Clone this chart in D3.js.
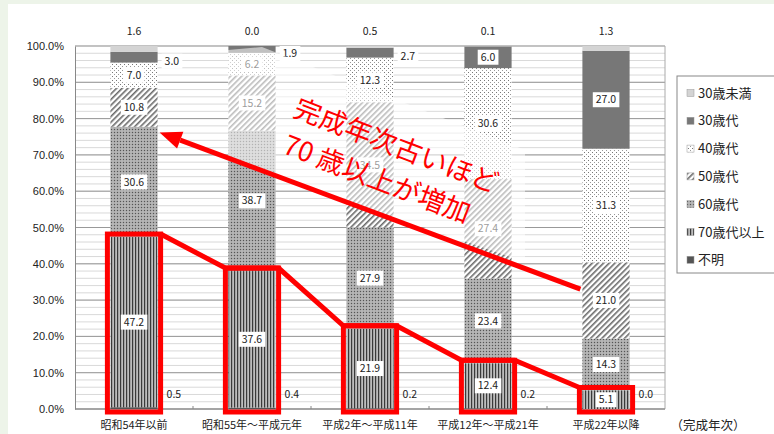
<!DOCTYPE html>
<html>
<head>
<meta charset="utf-8">
<script src="https://cdn.jsdelivr.net/npm/d3@7"></script>
<style>
  body { margin: 0; background: #edf4e9; }
  svg { display: block; font-family: "Noto Sans CJK JP", "Noto Sans", sans-serif; }
  .tick text { font-size: 11px; fill: #222; }
  .lbl { font-size: 10.5px; fill: #222; }
  .cat { font-size: 11px; fill: #222; }
  .unit { font-size: 12.5px; fill: #222; }
  .leg { font-size: 13px; fill: #222; }
  .note { font-size: 27px; fill: #f00; }
</style>
</head>
<body>
<div id="main"></div>
<script>
// categories (完成年次)
var categories = ["昭和54年以前", "昭和55年～平成元年", "平成2年～平成11年", "平成12年～平成21年", "平成22年以降"];
// stack order, bottom -> top
var ageGroups = ["不明", "70歳代以上", "60歳代", "50歳代", "40歳代", "30歳代", "30歳未満"];
// legend order, top -> bottom
var legendOrder = ["30歳未満", "30歳代", "40歳代", "50歳代", "60歳代", "70歳代以上", "不明"];

// series values (%)
var under30   = [1.6, 0.0, 0.5, 0.1, 1.3];
var age30s    = [3.0, 1.9, 2.7, 6.0, 27.0];
var age40s    = [7.0, 6.2, 12.3, 30.6, 31.3];
var age50s    = [10.8, 15.2, 34.5, 27.4, 21.0];
var age60s    = [30.6, 38.7, 27.9, 23.4, 14.3];
var age70plus = [47.2, 37.6, 21.9, 12.4, 5.1];
var unknown   = [0.5, 0.4, 0.2, 0.2, 0.0];

var yTicks = [0, 0.1, 0.2, 0.3, 0.4, 0.5, 0.6, 0.7, 0.8, 0.9, 1.0];

var ctx = {
    w: 774,
    h: 434,
    left: 75, right: 665, top: 46, bottom: 409
};

var seriesByGroup = {
    "不明": unknown, "70歳代以上": age70plus, "60歳代": age60s, "50歳代": age50s,
    "40歳代": age40s, "30歳代": age30s, "30歳未満": under30
};

var fills = {
    "30歳未満": "#d4d4d4",
    "30歳代": "#777",
    "40歳代": "url(#p40)",
    "50歳代": "url(#p50)",
    "60歳代": "url(#p60)",
    "70歳代以上": "url(#p70)",
    "不明": "#555"
};

var svg = d3.select("#main").append("svg")
    .attr("width", ctx.w).attr("height", ctx.h);

// patterns
var defs = svg.append("defs");
var p70 = defs.append("pattern").attr("id", "p70").attr("patternUnits", "userSpaceOnUse")
    .attr("width", 3).attr("height", 3);
p70.append("rect").attr("width", 3).attr("height", 3).attr("fill", "#bdbdbd");
p70.append("rect").attr("width", 1.2).attr("height", 3).attr("fill", "#3a3a3a");

var p60 = defs.append("pattern").attr("id", "p60").attr("patternUnits", "userSpaceOnUse")
    .attr("width", 3).attr("height", 3);
p60.append("rect").attr("width", 3).attr("height", 3).attr("fill", "#a9a9a9");
p60.append("rect").attr("width", 1).attr("height", 1).attr("fill", "#555");
p60.append("rect").attr("x", 1.5).attr("y", 1.5).attr("width", 1).attr("height", 1).attr("fill", "#d8d8d8");

var p50 = defs.append("pattern").attr("id", "p50").attr("patternUnits", "userSpaceOnUse")
    .attr("width", 4).attr("height", 4).attr("patternTransform", "rotate(45)");
p50.append("rect").attr("width", 4).attr("height", 4).attr("fill", "#fff");
p50.append("rect").attr("width", 1.6).attr("height", 4).attr("fill", "#6a6a6a");

var p40 = defs.append("pattern").attr("id", "p40").attr("patternUnits", "userSpaceOnUse")
    .attr("width", 4).attr("height", 4);
p40.append("rect").attr("width", 4).attr("height", 4).attr("fill", "#fff");
p40.append("rect").attr("width", 1).attr("height", 1).attr("fill", "#777");
p40.append("rect").attr("x", 2).attr("y", 2).attr("width", 1).attr("height", 1).attr("fill", "#999");

// white sheet
svg.append("rect").attr("x", 8).attr("y", 4).attr("width", ctx.w - 8).attr("height", ctx.h - 4)
    .attr("fill", "#fff");

// scales
var xScale = d3.scaleBand().domain(categories)
    .range([ctx.left, ctx.right]).paddingInner(0.6).paddingOuter(0.3);
var yScale = d3.scaleLinear().domain([0, 1]).range([ctx.bottom, ctx.top]);
var bw = xScale.bandwidth();

// grid: minor every 2%, major every 10%
var minor = d3.range(0, 51).map(function(i){ return i / 50; });
svg.append("g").selectAll("line").data(minor).enter().append("line")
    .attr("x1", ctx.left).attr("x2", ctx.right)
    .attr("y1", function(d){ return yScale(d); }).attr("y2", function(d){ return yScale(d); })
    .attr("stroke", "#cfcfcf").attr("stroke-width", 0.8);
svg.append("g").selectAll("line").data(yTicks).enter().append("line")
    .attr("x1", ctx.left).attr("x2", ctx.right)
    .attr("y1", function(d){ return yScale(d); }).attr("y2", function(d){ return yScale(d); })
    .attr("stroke", "#999").attr("stroke-width", 1);
svg.append("line").attr("x1", ctx.right).attr("x2", ctx.right)
    .attr("y1", ctx.top).attr("y2", ctx.bottom).attr("stroke", "#aaa");

// y axis
var yAxis = svg.append("g").attr("transform", "translate(" + ctx.left + ",0)")
    .call(d3.axisLeft(yScale).tickValues(yTicks).tickSize(0).tickPadding(11)
        .tickFormat(function(d){ return (d * 100).toFixed(1) + "%"; }));
yAxis.select(".domain").attr("stroke", "#888");

// x axis baseline + boundary ticks
svg.append("line").attr("x1", ctx.left).attr("x2", ctx.right)
    .attr("y1", ctx.bottom).attr("y2", ctx.bottom).attr("stroke", "#888");
svg.append("g").selectAll("line").data(categories.slice(1)).enter().append("line")
    .attr("x1", function(d){ return xScale(d) - xScale.step() * 0.3; })
    .attr("x2", function(d){ return xScale(d) - xScale.step() * 0.3; })
    .attr("y1", ctx.bottom - 3).attr("y2", ctx.bottom).attr("stroke", "#888");
svg.append("g").selectAll("text").data(categories).enter().append("text")
    .attr("class", "cat")
    .attr("x", function(d){ return xScale(d) + bw / 2; })
    .attr("y", 429).attr("text-anchor", "middle")
    .text(function(d){ return d; });
svg.append("text").attr("class", "unit").attr("x", 708).attr("y", 430)
    .attr("text-anchor", "middle").text("（完成年次）");

// stacked data
var table = categories.map(function(c, i){
    var row = {cat: c};
    ageGroups.forEach(function(g){ row[g] = seriesByGroup[g][i]; });
    return row;
});
var stacked = d3.stack().keys(ageGroups).offset(d3.stackOffsetExpand)(table);

var barsG = svg.append("g");
stacked.forEach(function(layer){
    barsG.selectAll(null).data(layer).enter().append("rect")
        .attr("x", function(d){ return xScale(d.data.cat); })
        .attr("width", bw)
        .attr("y", function(d){ return yScale(d[1]); })
        .attr("height", function(d){ return yScale(d[0]) - yScale(d[1]); })
        .attr("fill", fills[layer.key]);
});

// labels
var lblG = svg.append("g");
var addLabel = function(x, y, txt, anchor, box){
    var t = lblG.append("text").attr("class", "lbl")
        .attr("x", x).attr("y", y).attr("dy", "0.35em")
        .attr("text-anchor", anchor).text(txt);
    if (box) {
        var bb = t.node().getBBox();
        lblG.insert("rect", "text:last-child")
            .attr("x", bb.x - 3).attr("y", y - 7.5)
            .attr("width", bb.width + 6).attr("height", 15).attr("fill", "#fff");
    }
};
stacked.forEach(function(layer){
    layer.forEach(function(d){
        var v = d.data[layer.key];
        var x0 = xScale(d.data.cat);
        var txt = v.toFixed(1);
        if (layer.key === "30歳未満") {
            addLabel(x0 + bw / 2, 31, txt, "middle", false);
        } else if (layer.key === "不明") {
            addLabel(x0 + bw + 9, yScale(0.04), txt, "start", false);
        } else if (v < 5) {
            addLabel(x0 + bw + 7, yScale((d[0] + d[1]) / 2) + 4, txt, "start", true);
        } else {
            addLabel(x0 + bw / 2, yScale((d[0] + d[1]) / 2), txt, "middle", true);
        }
    });
});

// legend
var legG = svg.append("g");
legG.append("rect").attr("x", 677).attr("y", 76).attr("width", 120).attr("height", 197)
    .attr("fill", "#fff").attr("stroke", "#888");
legendOrder.forEach(function(g, i){
    var cy = 93 + i * 27.8;
    legG.append("rect").attr("x", 687).attr("y", cy - 3.5).attr("width", 7).attr("height", 7)
        .attr("fill", fills[g]).attr("stroke", "#999").attr("stroke-width", 0.5);
    legG.append("text").attr("class", "leg").attr("x", 698).attr("y", cy)
        .attr("dy", "0.36em").text(g);
});

// translucent sheet under the annotation text
svg.append("polygon")
    .attr("points", "228,50 262,47 525,150 525,262 228,160")
    .attr("fill", "#fff").attr("opacity", 0.55);

// red annotations: boxes round 70歳代以上 and the line joining them
var red = "#f00";
var boxes = stacked[ageGroups.indexOf("70歳代以上")].map(function(d){
    var x0 = xScale(d.data.cat);
    return {x0: x0 - 3, x1: x0 + bw + 3, y0: yScale(d[1]) - 3, y1: ctx.bottom + 3};
});
svg.append("g").selectAll("rect").data(boxes).enter().append("rect")
    .attr("x", function(b){ return b.x0; }).attr("y", function(b){ return b.y0; })
    .attr("width", function(b){ return b.x1 - b.x0; })
    .attr("height", function(b){ return b.y1 - b.y0; })
    .attr("fill", "none").attr("stroke", red).attr("stroke-width", 5);
var joinPts = [];
boxes.forEach(function(b, i){
    if (i > 0) joinPts.push([b.x0, b.y0]);
    if (i < boxes.length - 1) joinPts.push([b.x1, b.y0]);
});
svg.append("path").attr("d", d3.line()(joinPts))
    .attr("fill", "none").attr("stroke", red).attr("stroke-width", 5);

// arrow towards the oldest bar
var tip = [xScale(categories[0]) + bw + 2, yScale(0.762)];
var tail = [xScale(categories[4]) - 2, yScale(0.33)];
var ang = Math.atan2(tip[1] - tail[1], tip[0] - tail[0]);
var headLen = 22, headW = 9;
var base = [tip[0] - headLen * Math.cos(ang), tip[1] - headLen * Math.sin(ang)];
svg.append("line").attr("x1", tail[0]).attr("y1", tail[1])
    .attr("x2", base[0]).attr("y2", base[1])
    .attr("stroke", red).attr("stroke-width", 5);
svg.append("polygon").attr("points", [
    tip,
    [base[0] + headW * Math.sin(ang), base[1] - headW * Math.cos(ang)],
    [base[0] - headW * Math.sin(ang), base[1] + headW * Math.cos(ang)]
].map(function(p){ return p.join(","); }).join(" ")).attr("fill", red);

// annotation text
var noteG = svg.append("g").attr("transform", "translate(292,116) rotate(21)");
noteG.append("text").attr("class", "note").attr("x", 0).attr("y", 0).text("完成年次古いほど");
noteG.append("text").attr("class", "note").attr("x", 3).attr("y", 38).text("70 歳以上が増加");
</script>
</body>
</html>
